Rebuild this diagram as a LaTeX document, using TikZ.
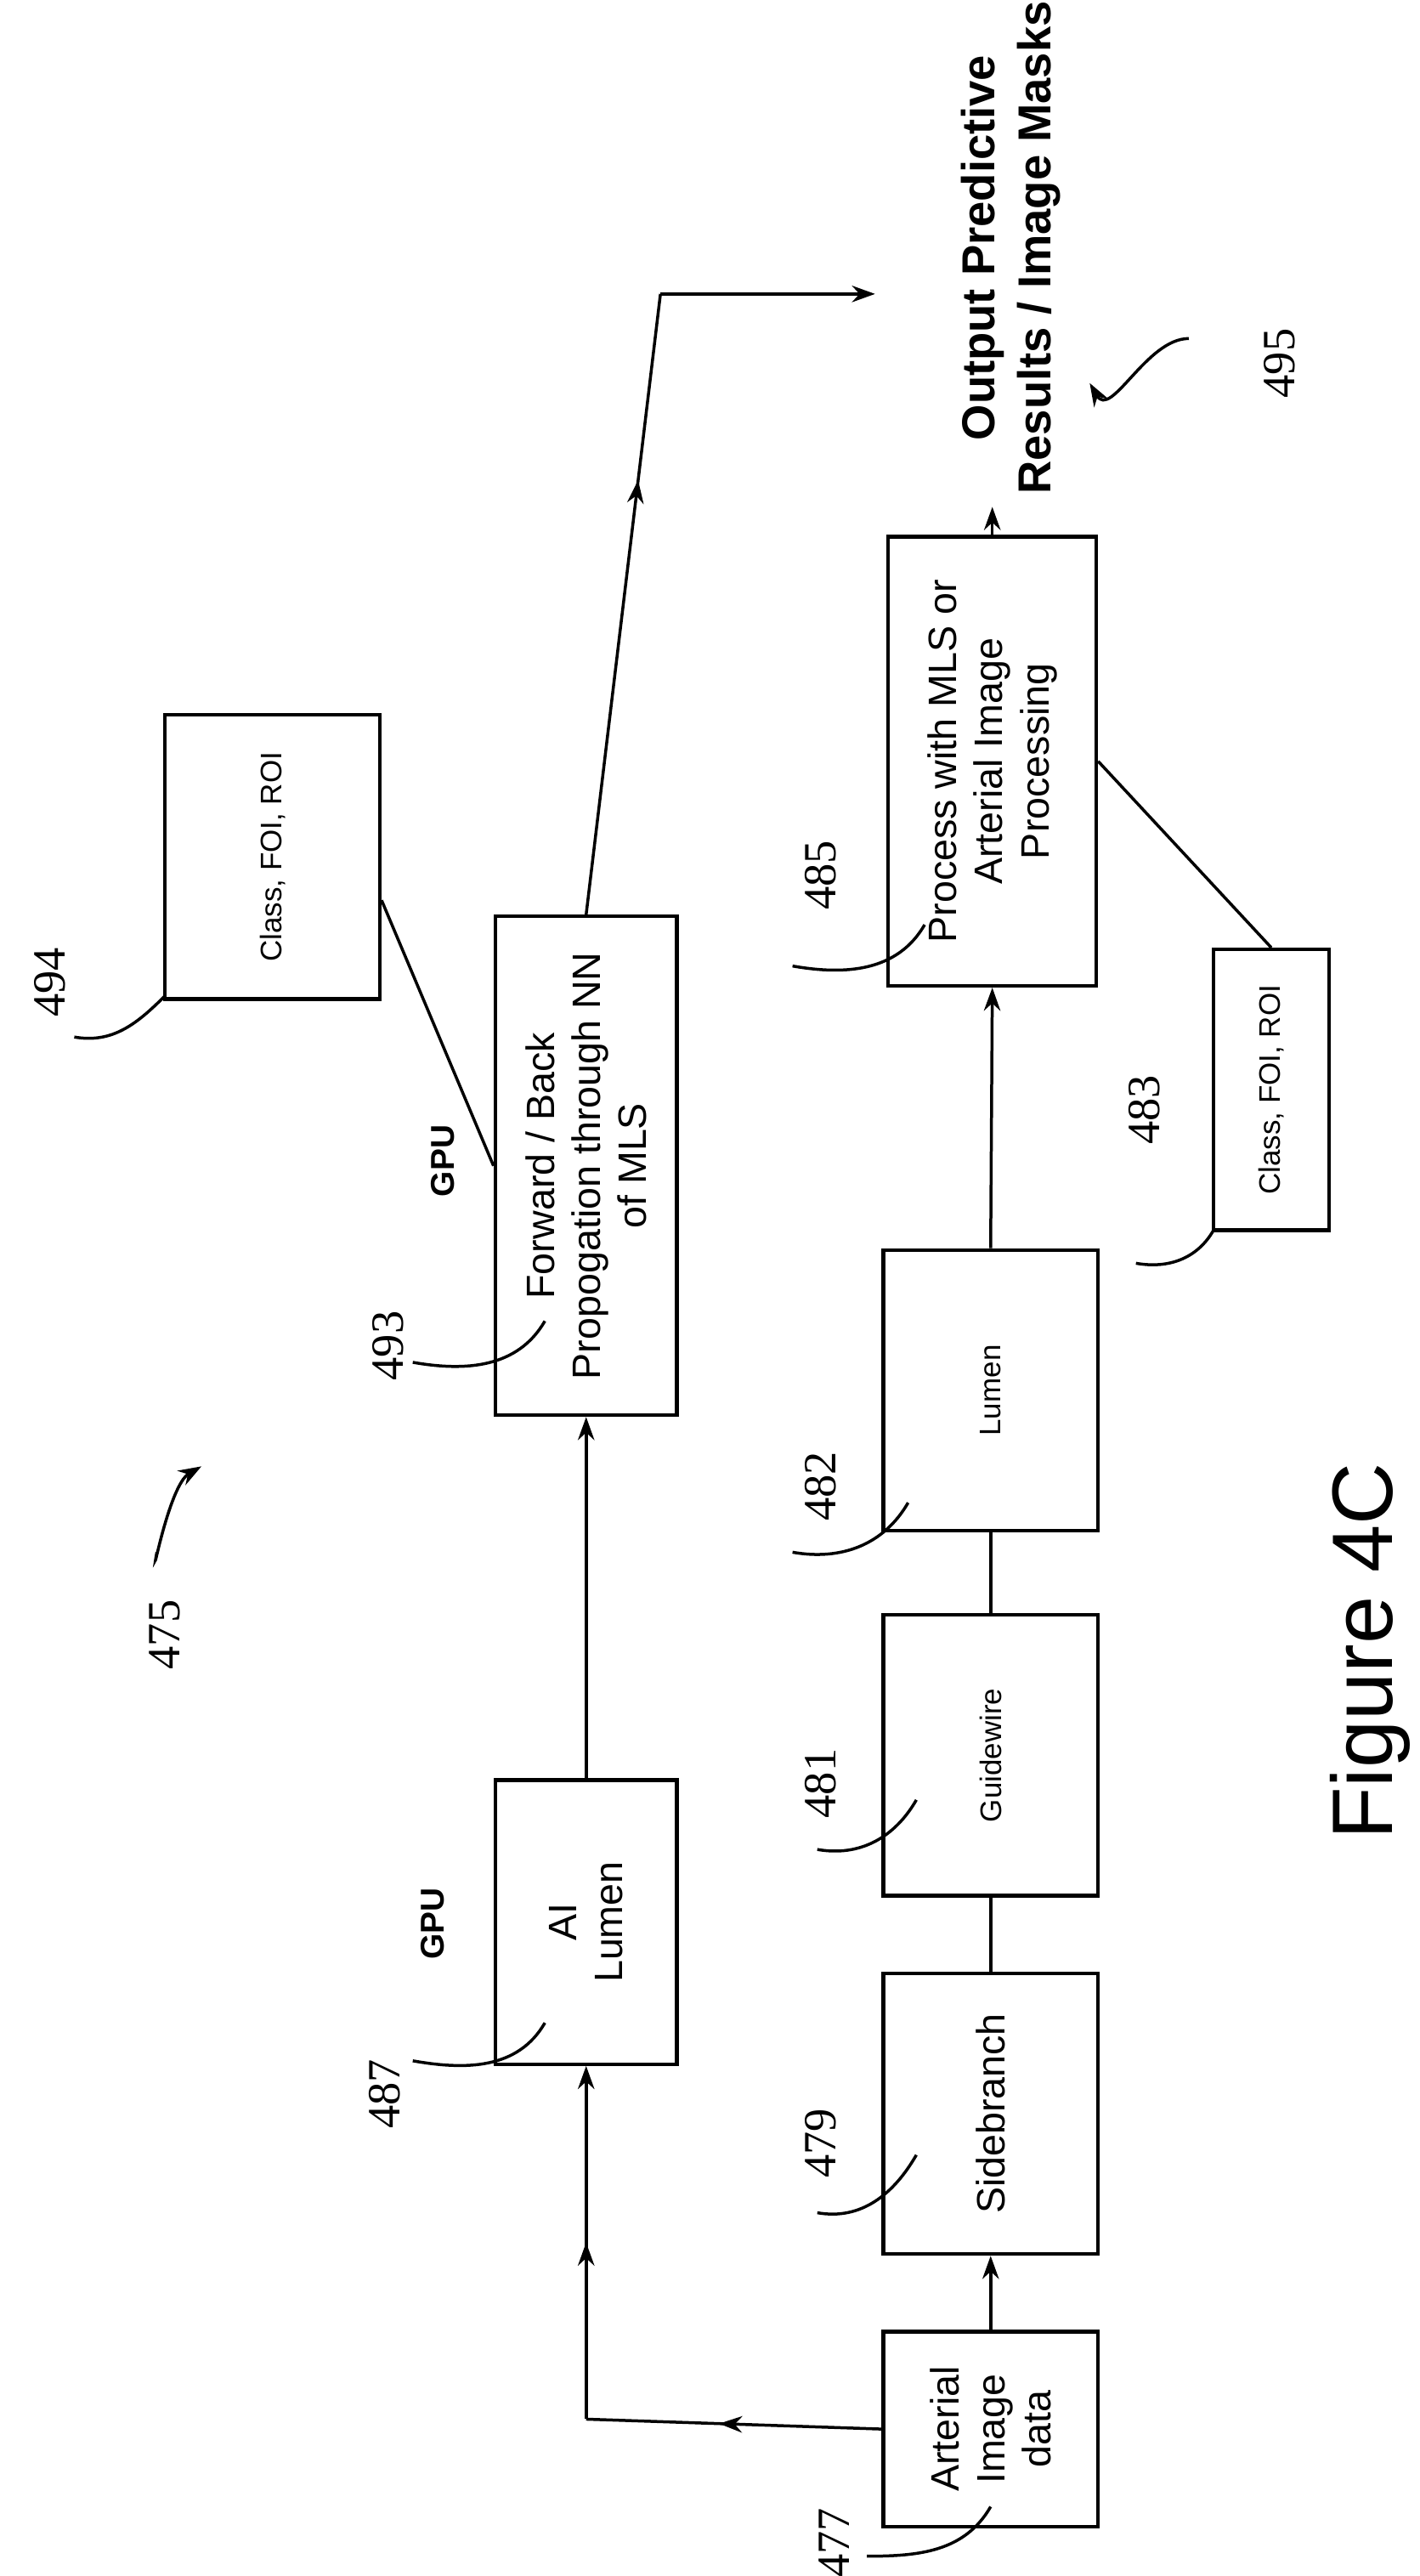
\documentclass[tikz,border=0pt]{standalone}
\usepackage{fontspec}
\setmainfont{Liberation Serif}
\setsansfont{Liberation Sans}
\usetikzlibrary{arrows.meta,decorations.markings,calc}
\begin{document}
\begin{tikzpicture}[x=0.5pt,y=-0.5pt,line width=0.9pt,
  box/.style={draw,line width=1.1pt,rotate=90,align=center,font=\sffamily,inner sep=1pt},
  num/.style={rotate=90,font=\fontsize{14}{14}\selectfont},
  tip/.style={-{Stealth[length=7pt,width=5pt]}},
  mid/.style={postaction={decorate},decoration={markings,mark=at position #1 with {\arrow{Stealth[length=7pt,width=5pt]}}}},
  lead/.style={line width=0.9pt}]
\useasboundingbox (0,0) rectangle (860,1560);
\node[box,minimum width=59pt,minimum height=65pt,font=\sffamily\fontsize{12}{14}\selectfont] (a) at (600,1471) {Arterial\\Image\\data};
\node[box,minimum width=85pt,minimum height=65pt,font=\sffamily\fontsize{12}{14}\selectfont] (sb) at (600,1280) {Sidebranch};
\node[box,minimum width=85pt,minimum height=65pt,font=\sffamily\fontsize{9}{11}\selectfont] (gw) at (600,1063) {Guidewire};
\node[box,minimum width=85pt,minimum height=65pt,font=\sffamily\fontsize{9}{11}\selectfont] (lu) at (600,842) {Lumen};
\node[box,minimum width=136pt,minimum height=63pt,font=\sffamily\fontsize{12}{14}\selectfont] (pr) at (601,461) {Process with MLS or\\Arterial Image\\Processing};
\node[box,minimum width=85pt,minimum height=35pt,font=\sffamily\fontsize{9}{11}\selectfont] (c483) at (770,660) {Class, FOI, ROI};
\node[box,minimum width=86pt,minimum height=55pt,font=\sffamily\fontsize{12}{14}\selectfont] (ai) at (355,1164) {AI\\Lumen};
\node[box,minimum width=151pt,minimum height=55pt,font=\sffamily\fontsize{12}{14}\selectfont] (fb) at (355,706) {Forward / Back\\Propogation through NN\\of MLS};
\node[box,minimum width=86pt,minimum height=65pt,font=\sffamily\fontsize{9}{11}\selectfont] (c494) at (165,519) {Class, FOI, ROI};
\node[rotate=90,align=center,font=\sffamily\bfseries\fontsize{14}{17}\selectfont] (out) at (612,150) {Output Predictive\\Results / Image Masks};
\node[rotate=90,font=\sffamily\bfseries\fontsize{10}{12}\selectfont] (g1) at (262,1165) {GPU};
\node[rotate=90,font=\sffamily\bfseries\fontsize{10}{12}\selectfont] (g2) at (268,703) {GPU};
\node[rotate=90,font=\sffamily\fontsize{26}{30}\selectfont] (fig) at (830,1000) {Figure 4C};

\coordinate (k1) at (355,1465);
\coordinate (k2) at (400,178);
\coordinate (k3) at (530,178);
\draw[tip] (a.east) -- (sb.west);
\draw (sb.east) -- (gw.west);
\draw (gw.east) -- (lu.west);
\draw[tip] (lu.east) -- (pr.west);
\draw[tip] (pr.east) -- (pr.east |- out.west);
\draw (pr.south) -- (c483.east);
\draw[mid=0.55] (a.north) -- (k1);
\draw[tip,mid=0.5] (k1) -- (ai.west);
\draw[tip] (ai.east) -- (fb.west);
\draw[mid=0.7] (fb.east) -- (k2);
\draw[tip] (k2) -- (k3);
\draw (fb.north) -- ($(c494.south)!0.3!(c494.south west)$);

% labels with leaders
\node[num] (n477) at (505,1540) {477};
\draw[lead] (525,1548) to[out=0,in=-120] (600,1518);
\node[num] (n479) at (497,1298) {479};
\draw[lead] (495,1340) to[out=-10,in=-120] (555,1305);
\node[num] (n481) at (497,1080) {481};
\draw[lead] (495,1120) to[out=-10,in=-120] (555,1090);
\node[num] (n482) at (497,900) {482};
\draw[lead] (480,940) to[out=-10,in=-120] (550,910);
\node[num] (n485) at (497,530) {485};
\draw[lead] (480,585) to[out=-10,in=-120] (560,560);
\node[num] (n483) at (693,672) {483};
\draw[lead] (688,765) to[out=-10,in=-120] (735,745);
\node[num] (n487) at (233,1268) {487};
\draw[lead] (250,1248) to[out=-10,in=-120] (330,1225);
\node[num] (n493) at (235,815) {493};
\draw[lead] (250,825) to[out=-10,in=-120] (330,800);
\node[num] (n494) at (30,595) {494};
\draw[lead] (45,628) to[out=-10,in=-135] (100,603);
\node[num] (n475) at (100,990) {475};
\draw[lead,tip] (95,940) to[out=-100,in=-150] (122,888);
\node[num] (n495) at (775,220) {495};
\draw[lead,tip] (720,205) to[out=180,in=-60] (660,232);
\end{tikzpicture}
\end{document}
